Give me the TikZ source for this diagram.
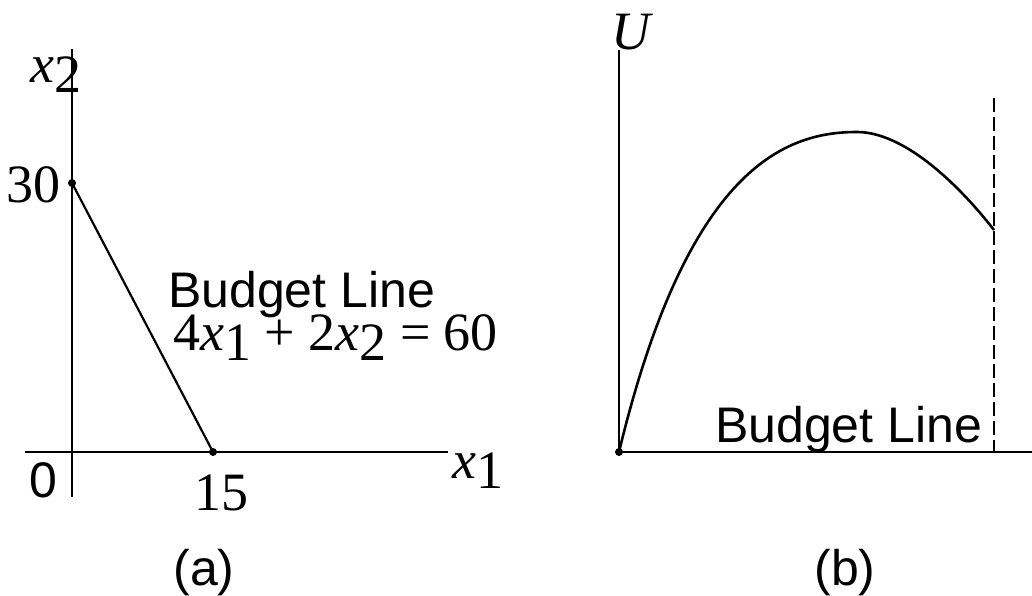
\documentclass[tikz,border=0pt]{standalone}
\usepackage{fontspec}
\setmainfont{Liberation Serif}
\setsansfont{Liberation Sans}
% italic variable with a lowered full-size index
\newcommand{\vsub}[2]{\textit{#1}\raisebox{-10pt}{#2}}

\begin{document}
\begin{tikzpicture}[x=1pt,y=-1pt,
		axis/.style={line width=1.3pt},
		budget/.style={line width=2.2pt},
		dot/.style={circle,fill,inner sep=0pt,minimum size=8pt},
		serif/.style={inner sep=0pt,font=\fontsize{54}{60}\selectfont},
		sans/.style={inner sep=0pt,font=\sffamily\fontsize{50}{56}\selectfont}]
	\useasboundingbox (0,0) rectangle (1032,596);
	
	% (a) budget set
	\draw[axis] (72,49) -- (72,497);
	\draw[axis] (25,452) -- (448,452);
	\node[dot] (a30) at (72,183) {};
	\node[dot] (a15) at (213,452) {};
	\draw[budget] (a30.center) -- (a15.center);
	
	\node[serif, anchor=base west] (ax2) at (30,83) {\vsub{x}{2}};
	\node[serif, anchor=base east] (a30lbl) at (61,202) {30};
	\node[sans, anchor=base west] (a0lbl) at (29,497) {0};
	\node[serif, anchor=base] (a15lbl) at (221,510) {15};
	\node[serif, anchor=base west] (ax1) at (452,478) {\vsub{x}{1}};
	\node[sans, anchor=base west] (abl) at (168,307) {Budget Line};
	\node[serif, anchor=base west] (aeq) at (173,350) {4\vsub{x}{1} + 2\vsub{x}{2} = 60};
	\node[sans, anchor=base] (acap) at (204,585) {(a)};
	
	% (b) utility along the budget line
	\draw[axis] (619,50) -- (619,452);
	\draw[axis] (994,452) -- (1032,452);
	\draw[budget] (619,452) -- (994,452);
	\draw[axis, dash pattern=on 14pt off 5pt] (994,98) -- (994,452);
	\node[dot] (b0) at (619,452) {};
	\coordinate (bpeak) at (857,132);
	\coordinate (bend) at (994,230);
	\draw[line width=2.6pt] (b0.center)
		.. controls (688,165) and (787,132) .. (bpeak)
		.. controls (902,132) and (955,180) .. (bend);
	
	\node[serif, anchor=base west] (bU) at (611,50) {\textit{U}};
	\node[sans, anchor=base west] (bbl) at (715,442) {Budget Line};
	\node[sans, anchor=base] (bcap) at (845,585) {(b)};
\end{tikzpicture}
\end{document}
